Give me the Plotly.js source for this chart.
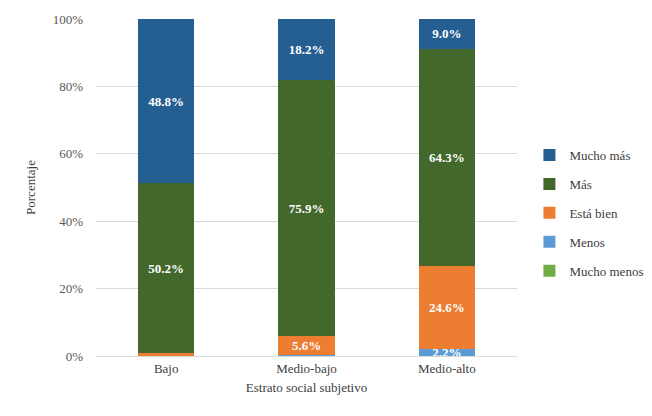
<!DOCTYPE html>
<html>
<head>
<meta charset="utf-8">
<script src="https://cdn.plot.ly/plotly-3.0.1.min.js"></script>
<style>html,body{margin:0;padding:0;background:#fff;}#chart{width:652px;height:416px;}</style>
</head>
<body>
<div id="chart"></div>
<script>
const categories = ["Bajo", "Medio-bajo", "Medio-alto"];
const seriesNames = ["Mucho menos", "Menos", "Está bien", "Más", "Mucho más"];
const muchoMenos = [0.0, 0.0, 0.0];
const menos = [0.0, 0.3, 2.2];
const estaBien = [1.0, 5.6, 24.6];
const mas = [50.2, 75.9, 64.3];
const muchoMas = [48.8, 18.2, 9.0];
const tickVals = [0, 20, 40, 60, 80, 100];
const tickLabels = ["0%", "20%", "40%", "60%", "80%", "100%"];

const seriesValues = [muchoMenos, menos, estaBien, mas, muchoMas];
const colors = ["#70AD47", "#5B9BD5", "#ED7D31", "#43682B", "#255E91"];
const font = "Liberation Serif";

const traces = seriesValues.map((vals, i) => ({
  type: "bar",
  name: seriesNames[i],
  x: categories,
  y: vals,
  marker: {color: colors[i]},
  text: vals.map(v => v >= 2 ? v.toFixed(1) + "%" : ""),
  textposition: "inside",
  insidetextanchor: "middle",
  constraintext: "none",
  textangle: 0,
  textfont: {family: font, size: 13, color: "#ffffff", weight: "bold"},
  legendgroup: "g" + i,
  legendrank: 10 - i,
  hoverinfo: "skip"
}));

const layout = {
  width: 652, height: 416,
  margin: {l: 96, r: 135, t: 19, b: 60},
  barmode: "stack",
  bargap: 0.6,
  paper_bgcolor: "#fff",
  plot_bgcolor: "#fff",
  font: {family: font, size: 13, color: "#595959"},
  showlegend: true,
  legend: {
    xref: "container", yref: "paper",
    x: 0.812, y: 0.424, xanchor: "left", yanchor: "middle",
    traceorder: "grouped",
    tracegroupgap: 9,
    itemwidth: 30,
    font: {family: font, size: 13, color: "#404040"}
  },
  xaxis: {
    type: "category",
    showline: true, linecolor: "#d9d9d9", linewidth: 1,
    ticks: "", tickfont: {family: font, size: 13, color: "#404040"},
    title: {text: "Estrato social subjetivo", font: {family: font, size: 13, color: "#404040"}, standoff: 8}
  },
  yaxis: {
    range: [0, 100],
    tickvals: tickVals, ticktext: tickLabels,
    showgrid: true, gridcolor: "#d9d9d9", gridwidth: 1,
    zeroline: false, ticks: "",
    ticklabelstandoff: 12,
    tickfont: {family: font, size: 13, color: "#595959"},
    title: {text: "Porcentaje", font: {family: font, size: 13, color: "#404040"}, standoff: 14}
  }
};

Plotly.newPlot("chart", traces, layout, {displayModeBar: false, staticPlot: true});
</script>
</body>
</html>
